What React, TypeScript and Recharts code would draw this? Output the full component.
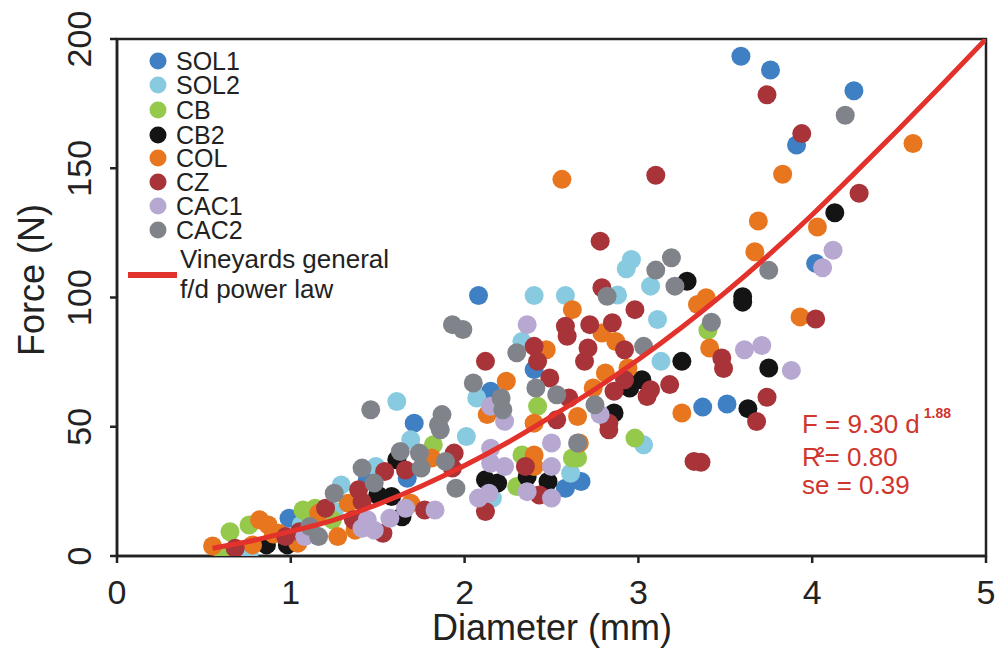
import { ScatterChart, Scatter, XAxis, YAxis, ReferenceArea } from "recharts";

type Pt = [number, number];

const xTicks = [0, 1, 2, 3, 4, 5];
const yTicks = [0, 50, 100, 150, 200];

const sol1: Pt[] = [[3.59, 193.3], [3.76, 188], [4.24, 180], [3.91, 159], [4.02, 113.2], [2.08, 100.8], [0.99, 14.6], [1.44, 29.5], [1.67, 30.1], [2.58, 26.2], [2.67, 28.8], [2.40, 72.1], [2.15, 63.7], [3.37, 57.6], [3.51, 58.8], [1.71, 51.4]];
const sol2: Pt[] = [[2.96, 114.7], [2.93, 111.1], [3.07, 104.4], [2.40, 100.8], [2.58, 100.8], [2.88, 101], [3.11, 91.5], [3.13, 75.3], [2.33, 83], [2.07, 61.1], [1.61, 59.8], [2.01, 46.2], [1.69, 45], [1.29, 27.5], [1.49, 34.6], [1.25, 17.2], [1.06, 12], [0.76, 1], [2.16, 22.4], [2.61, 32], [3.03, 43]];
const cb: Pt[] = [[3.40, 87.3], [2.98, 45.6], [2.65, 37.9], [2.62, 37.9], [2.33, 39.1], [2.42, 57.9], [2.30, 26.9], [1.82, 43], [1.24, 14], [1.07, 17.8], [1.14, 18.5], [1.11, 15.2], [0.76, 12], [0.65, 9.4], [0.61, 1]];
const cb2: Pt[] = [[3.60, 100.3], [3.60, 98.2], [4.13, 132.8], [3.28, 106.3], [3.75, 72.7], [3.63, 57], [3.25, 75.3], [3.02, 68.2], [2.95, 65], [2.86, 55.3], [2.12, 29.5], [2.19, 28.2], [2.36, 30.7], [2.48, 28.8], [1.50, 23.6], [1.58, 23], [1.61, 37.2], [1.64, 15.2], [0.86, 4.3], [0.98, 4.3]];
const col: Pt[] = [[2.56, 145.7], [4.58, 159.6], [3.83, 147.7], [3.69, 129.6], [4.03, 127.3], [3.67, 117.7], [3.39, 99.9], [3.34, 97.3], [3.93, 92.5], [3.41, 80.5], [2.62, 95.3], [2.79, 86.3], [2.87, 83], [2.47, 79.8], [2.81, 70.8], [2.94, 72.7], [2.74, 65], [2.24, 67.6], [2.13, 54.7], [2.65, 54], [3.25, 55.3], [2.66, 43.7], [2.40, 51.4], [2.40, 39.1], [2.40, 34.6], [1.81, 37.9], [1.69, 20.4], [1.33, 20.4], [1.37, 10], [1.27, 7.5], [1.16, 16.5], [1.04, 4.9], [0.93, 8.8], [0.90, 8.5], [0.87, 12], [0.82, 14], [0.78, 4.3], [0.55, 3.9]];
const cz: Pt[] = [[3.74, 178.4], [3.10, 147.3], [3.94, 163.4], [4.27, 140.3], [2.78, 121.8], [2.79, 103.8], [2.98, 95.3], [2.72, 89.5], [2.85, 90.2], [2.58, 88.9], [2.59, 85], [2.40, 81.1], [2.71, 80.5], [2.92, 79.8], [2.42, 75.3], [2.69, 75.3], [2.12, 75.3], [2.49, 68.9], [2.92, 68.2], [3.07, 64.3], [3.18, 66.3], [3.05, 61.7], [2.86, 63.7], [2.60, 61.1], [2.83, 51.4], [2.53, 52.7], [4.02, 91.7], [3.48, 76.6], [3.49, 72.5], [3.74, 61.4], [3.68, 52], [3.36, 36.3], [3.32, 36.6], [2.83, 48.8], [1.93, 34], [1.94, 39.8], [2.35, 34.6], [2.43, 23.6], [2.12, 17.2], [1.54, 32.7], [1.39, 25.6], [1.41, 21], [1.66, 33.3], [1.77, 17.8], [1.53, 8.8], [1.36, 14], [1.20, 18.5], [1.05, 9.4], [0.97, 7.5], [0.68, 3]];
const cac1: Pt[] = [[4.12, 118.3], [4.06, 111.5], [3.61, 79.8], [3.71, 81.4], [3.88, 71.8], [2.36, 89.5], [2.78, 54.7], [2.15, 57.9], [2.23, 52.1], [2.15, 41.7], [2.15, 35.9], [2.23, 34.6], [2.50, 34.6], [2.50, 43.7], [2.08, 22.4], [2.14, 24.3], [2.36, 24.9], [2.50, 22.4], [1.83, 17.8], [1.66, 18.5], [1.57, 14.6], [1.44, 14], [1.48, 10], [1.41, 10.7], [1.08, 7.5]];
const cac2: Pt[] = [[4.19, 170.5], [3.75, 110.5], [3.42, 90.4], [3.19, 115.4], [3.10, 110.6], [3.21, 104.4], [2.82, 100.5], [3.03, 81.1], [2.75, 58.5], [2.53, 62.4], [2.41, 65], [2.30, 78.6], [2.05, 66.9], [2.21, 61.1], [2.22, 56.6], [1.93, 89.5], [1.99, 87.6], [1.46, 56.6], [1.87, 54.7], [1.85, 50.8], [1.86, 48.8], [1.63, 40.4], [1.74, 39.8], [1.75, 34], [1.89, 36.6], [1.41, 34], [1.48, 28.2], [1.25, 24.3], [1.95, 26.2], [2.65, 43.7], [1.11, 11.4], [1.16, 7.5]];

// power law curve
const powerLaw: Pt[] = [[0.55, 3], [0.75, 5.5], [1.0, 9.5], [1.25, 14], [1.5, 20], [1.75, 27], [2.0, 35], [2.25, 44], [2.5, 54], [2.75, 64.5], [3.0, 76], [3.25, 88.5], [3.5, 102], [3.75, 116.5], [4.0, 132], [4.25, 148.5], [4.5, 165.3], [4.75, 182.5], [5.0, 200]];

const series = [
  { name: "SOL1", color: "#3f80c4", pts: sol1 },
  { name: "SOL2", color: "#88cbe0", pts: sol2 },
  { name: "CB", color: "#95c94c", pts: cb },
  { name: "CB2", color: "#141414", pts: cb2 },
  { name: "COL", color: "#e8761e", pts: col },
  { name: "CZ", color: "#a8343a", pts: cz },
  { name: "CAC1", color: "#b7a8d2", pts: cac1 },
  { name: "CAC2", color: "#80848a", pts: cac2 },
];

const font = "'Liberation Sans', Arial, sans-serif";
const ink = "#222";
const red = "#e3312b";

const toRows = (pts: Pt[]) => pts.map(([x, y]) => ({ x, y }));

function XTick({ x, y, payload }: any) {
  return (
    <text x={x} y={y + 39} textAnchor="middle" fontSize={34} fill={ink} fontFamily={font}>
      {payload.value}
    </text>
  );
}

function YTick({ x, y, payload }: any) {
  const bx = x - 17;
  return (
    <text x={bx} y={y} transform={`rotate(-90, ${bx}, ${y})`} textAnchor="middle" fontSize={34} fill={ink} fontFamily={font}>
      {payload.value}
    </text>
  );
}

function Overlay() {
  const rowY = [61, 85, 110, 135, 158, 182, 206, 230];
  return (
    <svg width={996} height={654} style={{ position: "absolute", left: 0, top: 0, pointerEvents: "none" }} fontFamily={font}>
      {series.map((s, i) => (
        <g key={s.name}>
          <circle cx={158} cy={rowY[i]} r={8.5} fill={s.color} />
          <text x={176} y={rowY[i] + 9} fontSize={25} fill={ink}>{s.name}</text>
        </g>
      ))}
      <line x1={128} x2={177} y1={275} y2={275} stroke={red} strokeWidth={6} />
      <text x={180} y={268} fontSize={26} fill={ink}>Vineyards general</text>
      <text x={180} y={298} fontSize={26} fill={ink}>f/d power law</text>

      <g fill="#cf352d">
        <text x={802} y={433} fontSize={26}>
          F = 9.30 d<tspan dx={4} dy={-15} fontSize={14} fontWeight="bold">1.88</tspan>
        </text>
        <text x={802} y={466} fontSize={26}>
          R<tspan dx={-4} dy={-9} fontSize={14} fontWeight="bold">2</tspan><tspan dy={9}>= 0.80</tspan>
        </text>
        <text x={802} y={494} fontSize={26}>se = 0.39</text>
      </g>

      <text x={552} y={640} textAnchor="middle" fontSize={36} fill={ink}>Diameter (mm)</text>
      <text x={44} y={280} transform="rotate(-90, 44, 280)" textAnchor="middle" fontSize={36} fill={ink}>Force (N)</text>
    </svg>
  );
}

export default function App() {
  return (
    <div style={{ position: "absolute", left: 0, top: 0, width: 996, height: 654, background: "#fff" }}>
      <ScatterChart width={996} height={654} margin={{ top: 39, right: 10, bottom: 38, left: 40 }}>
        <XAxis type="number" dataKey="x" domain={[0, 5]} ticks={xTicks} height={60} tickSize={7}
          axisLine={{ stroke: ink, strokeWidth: 2.5 }} tickLine={{ stroke: ink, strokeWidth: 2.5 }} tick={<XTick />} allowDataOverflow />
        <YAxis type="number" dataKey="y" domain={[0, 200]} ticks={yTicks} width={77} tickSize={7}
          axisLine={{ stroke: ink, strokeWidth: 2.5 }} tickLine={{ stroke: ink, strokeWidth: 2.5 }} tick={<YTick />} allowDataOverflow />
        <ReferenceArea x1={0} x2={5} y1={0} y2={200} fill="none" stroke={ink} strokeWidth={2.5} />
        {series.map(s => (
          <Scatter key={s.name} name={s.name} data={toRows(s.pts)} isAnimationActive={false}
            shape={(p: any) => <circle cx={p.cx} cy={p.cy} r={9.5} fill={s.color} />} />
        ))}
        <Scatter name="power law" data={toRows(powerLaw)} isAnimationActive={false}
          line={{ stroke: red, strokeWidth: 5 }} lineJointType="monotoneX" shape={() => <g />} />
      </ScatterChart>
      <Overlay />
    </div>
  );
}
